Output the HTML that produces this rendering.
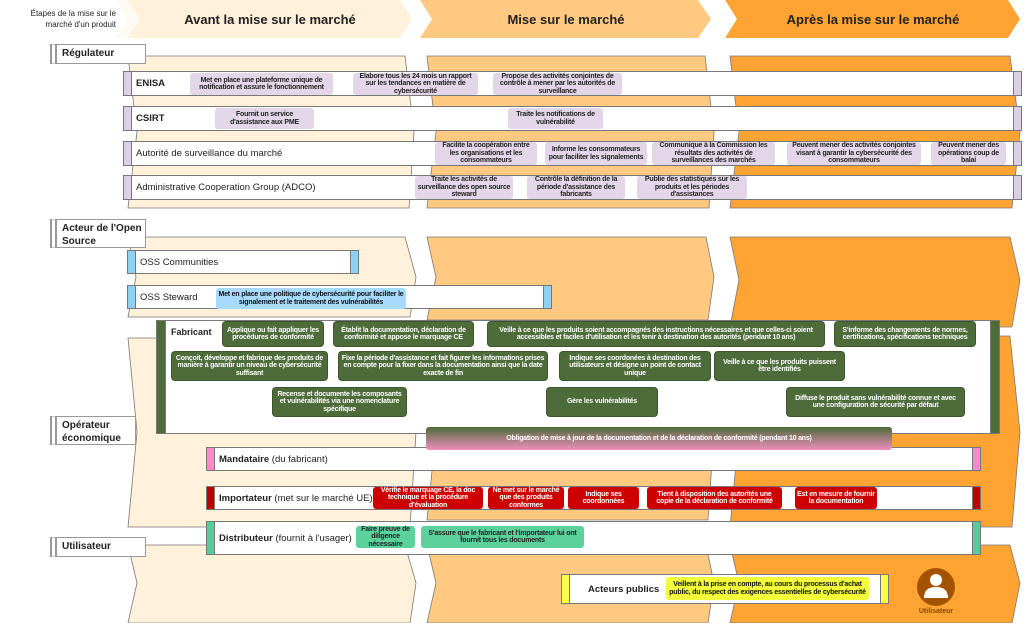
<!DOCTYPE html>
<html><head><meta charset="utf-8">
<style>
*{margin:0;padding:0;box-sizing:border-box}
body{width:1024px;height:623px;position:relative;background:#fff;overflow:hidden;font-family:"Liberation Sans",sans-serif}
svg.bg{position:absolute;left:0;top:0}
.a{position:absolute}
.lbl{position:absolute;background:#fff;border:1px solid #999;border-left:7px double #999;font-size:10px;font-weight:bold;color:#222;padding:2px 0 0 5px;line-height:13px}
.bar{position:absolute;background:#fff;border:1px solid #777}
.cap{position:absolute;top:-1px;bottom:-1px;width:9px;border:1px solid #777}
.cap.l{left:-1px}.cap.r{right:-1px}
.bt{position:absolute;left:12px;top:0;bottom:0;display:flex;align-items:center;font-size:9.5px;color:#222;white-space:nowrap}
.c{position:absolute;display:flex;align-items:center;justify-content:center;text-align:center;font-size:7px;font-weight:bold;line-height:7.4px;border-radius:3px;letter-spacing:-0.2px;padding:0 2px}
.p{background:#e2d6e8;color:#222}
.g{background:#4e6b3a;color:#fff;box-shadow:0 0 0 1px #3d552d}
.r{background:#cc0000;color:#fff}
.gr{background:#5bd19c;color:#222}
.b{background:#a6dbff;color:#111}
.y{background:#f3ff3a;color:#111}
.h{position:absolute;top:0;height:38px;display:flex;align-items:center;justify-content:center;font-size:13px;font-weight:bold;color:#222}
</style></head><body>
<svg class="bg" width="1024" height="623">
<polygon points="115,0 385,0 400,19 385,38 115,38 128,19" fill="#fffaf2"/>
<polygon points="128,0 400,0 412,19 400,38 128,38 140,19" fill="#fff1da"/>
<polygon points="420,0 698,0 711,19 698,38 420,38 432,19" fill="#ffc982"/>
<polygon points="725,0 1008,0 1020,19 1008,38 725,38 737,19" fill="#ffa432"/>
<g stroke="#777" stroke-width="0.8">
<polygon points="128,56 405,56 414,132 409,208 128,208 137,132" fill="#fff1da"/>
<polygon points="427,56 705,56 714,132 709,208 427,208 436,132" fill="#ffc982"/>
<polygon points="730,56 1010,56 1020,132 1012,208 730,208 739,132" fill="#ffa432"/>
<polygon points="128,237 405,237 416,277 410,317 128,317 136,277" fill="#fff1da"/>
<polygon points="427,237 706,237 714,277 708,320 427,320 436,277" fill="#ffc982"/>
<polygon points="730,237 1010,237 1020,280 1012,327 730,327 739,280" fill="#ffa432"/>
<polygon points="128,338 405,338 416,432 410,527 128,527 137,432" fill="#fff1da"/>
<polygon points="427,338 706,338 714,432 708,520 427,520 436,432" fill="#ffc982"/>
<polygon points="730,336 1010,336 1020,432 1012,527 730,527 739,432" fill="#ffa432"/>
<polygon points="128,545 405,545 416,583 410,623 128,623 137,583" fill="#fff1da"/>
<polygon points="427,545 706,545 714,583 708,623 427,623 436,583" fill="#ffc982"/>
<polygon points="730,545 1010,545 1020,583 1012,623 730,623 739,583" fill="#ffa432"/>
</g>
<circle cx="936" cy="587" r="19" fill="#a35200"/>
<circle cx="936" cy="580" r="6" fill="#fff"/>
<path d="M924,598 Q924,587 936,587 Q948,587 948,598 Z" fill="#fff"/>
</svg>

<div class="a" style="left:0;top:8px;width:116px;text-align:right;font-size:8px;line-height:11px;color:#222">Étapes de la mise sur le<br>marché d'un produit</div>
<div class="h" style="left:140px;width:260px">Avant la mise sur le marché</div>
<div class="h" style="left:432px;width:268px">Mise sur le marché</div>
<div class="h" style="left:737px;width:272px">Après la mise sur le marché</div>

<div class="lbl" style="left:50px;top:44px;width:96px;height:20px">Régulateur</div>
<div class="lbl" style="left:50px;top:219px;width:96px;height:29px">Acteur de l'Open<br>Source</div>
<div class="lbl" style="left:50px;top:416px;width:86px;height:29px">Opérateur<br>économique</div>
<div class="lbl" style="left:50px;top:537px;width:96px;height:20px">Utilisateur</div>

<div class="bar" style="left:123px;top:71px;width:899px;height:25px"><div class="cap l" style="background:#dcd0e6"></div><div class="cap r" style="background:#dcd0e6"></div><div class="bt" style="font-weight:bold">ENISA</div></div>
<div class="bar" style="left:123px;top:106px;width:899px;height:25px"><div class="cap l" style="background:#dcd0e6"></div><div class="cap r" style="background:#dcd0e6"></div><div class="bt" style="font-weight:bold">CSIRT</div></div>
<div class="bar" style="left:123px;top:141px;width:899px;height:25px"><div class="cap l" style="background:#dcd0e6"></div><div class="cap r" style="background:#dcd0e6"></div><div class="bt">Autorité de surveillance du marché</div></div>
<div class="bar" style="left:123px;top:175px;width:899px;height:25px"><div class="cap l" style="background:#dcd0e6"></div><div class="cap r" style="background:#dcd0e6"></div><div class="bt">Administrative Cooperation Group (ADCO)</div></div>

<div class="c p" style="left:190px;top:73px;width:143px;height:22px">Met en place une plateforme unique de notification et assure le fonctionnement</div>
<div class="c p" style="left:353px;top:73px;width:125px;height:22px">Elabore tous les 24 mois un rapport sur les tendances en matière de cybersécurité</div>
<div class="c p" style="left:493px;top:73px;width:129px;height:22px">Propose des activités conjointes de contrôle à mener par les autorités de surveillance</div>
<div class="c p" style="left:215px;top:108px;width:99px;height:21px">Fournit un service d'assistance aux PME</div>
<div class="c p" style="left:508px;top:108px;width:95px;height:21px">Traite les notifications de vulnérabilité</div>
<div class="c p" style="left:435px;top:142px;width:102px;height:23px">Facilite la coopération entre les organisations et les consommateurs</div>
<div class="c p" style="left:545px;top:142px;width:102px;height:23px">Informe les consommateurs pour faciliter les signalements</div>
<div class="c p" style="left:652px;top:142px;width:123px;height:23px">Communique à la Commission les résultats des activités de surveillances des marchés</div>
<div class="c p" style="left:787px;top:142px;width:134px;height:23px">Peuvent mener des activités conjointes visant à garantir la cybersécurité des consommateurs</div>
<div class="c p" style="left:931px;top:142px;width:75px;height:23px">Peuvent mener des opérations coup de balai</div>
<div class="c p" style="left:415px;top:176px;width:98px;height:23px">Traite les activités de surveillance des open source steward</div>
<div class="c p" style="left:527px;top:176px;width:98px;height:23px">Contrôle la définition de la période d'assistance des fabricants</div>
<div class="c p" style="left:637px;top:176px;width:110px;height:23px">Publie des statistiques sur les produits et les périodes d'assistances</div>

<div class="bar" style="left:127px;top:250px;width:232px;height:24px"><div class="cap l" style="background:#8fd0f5"></div><div class="cap r" style="background:#8fd0f5"></div><div class="bt">OSS Communities</div></div>
<div class="bar" style="left:127px;top:285px;width:425px;height:24px"><div class="cap l" style="background:#8fd0f5"></div><div class="cap r" style="background:#8fd0f5"></div><div class="bt">OSS Steward</div></div>
<div class="c b" style="left:216px;top:288px;width:190px;height:21px">Met en place une politique de cybersécurité pour faciliter le signalement et le traitement des vulnérabilités</div>

<div class="bar" style="left:156px;top:320px;width:844px;height:114px"><div class="cap l" style="background:#4e6b3a;width:10px"></div><div class="cap r" style="background:#4e6b3a;width:10px"></div><div class="a" style="left:14px;top:6px;font-size:9px;font-weight:bold;color:#222">Fabricant</div></div>
<div class="c g" style="left:223px;top:322px;width:100px;height:24px">Applique ou fait appliquer les procédures de conformité</div>
<div class="c g" style="left:334px;top:322px;width:139px;height:24px">Établit la documentation, déclaration de conformité et appose le marquage CE</div>
<div class="c g" style="left:488px;top:322px;width:336px;height:24px">Veille à ce que les produits soient accompagnés des instructions nécessaires et que celles-ci soient accessibles et faciles d'utilisation et les tenir à destination des autorités (pendant 10 ans)</div>
<div class="c g" style="left:835px;top:322px;width:140px;height:24px">S'informe des changements de normes, certifications, spécifications techniques</div>
<div class="c g" style="left:172px;top:352px;width:155px;height:28px">Conçoit, développe et fabrique des produits de manière à garantir un niveau de cybersécurité suffisant</div>
<div class="c g" style="left:339px;top:352px;width:208px;height:28px">Fixe la période d'assistance et fait figurer les informations prises en compte pour la fixer dans la documentation ainsi que la date exacte de fin</div>
<div class="c g" style="left:560px;top:352px;width:150px;height:28px">Indique ses coordonées à destination des utilisateurs et désigne un point de contact unique</div>
<div class="c g" style="left:715px;top:352px;width:129px;height:28px">Veille à ce que les produits puissent être identifiés</div>
<div class="c g" style="left:273px;top:388px;width:133px;height:28px">Recense et documente les composants et vulnérabilités via une nomenclature spécifique</div>
<div class="c g" style="left:547px;top:388px;width:110px;height:28px">Gère les vulnérabilités</div>
<div class="c g" style="left:787px;top:388px;width:177px;height:28px">Diffuse le produit sans vulnérabilité connue et avec une configuration de sécurité par défaut</div>

<div class="bar" style="left:206px;top:447px;width:775px;height:24px"><div class="cap l" style="background:#ff88cc"></div><div class="cap r" style="background:#ff88cc"></div><div class="bt"><b>Mandataire</b>&nbsp;(du fabricant)</div></div>
<div class="c" style="left:426px;top:427px;width:466px;height:23px;color:#fff;background:linear-gradient(#4e6b3a,#f08fc0)">Obligation de mise à jour de la documentation et de la déclaration de conformité (pendant 10 ans)</div>
<div class="bar" style="left:206px;top:486px;width:775px;height:24px"><div class="cap l" style="background:#c00000"></div><div class="cap r" style="background:#c00000"></div><div class="bt"><b>Importateur</b>&nbsp;(met sur le marché UE)</div></div>
<div class="c r" style="left:373px;top:487px;width:110px;height:22px">Vérifie le marquage CE, la doc technique et la procédure d'évaluation</div>
<div class="c r" style="left:488px;top:487px;width:76px;height:22px">Ne met sur le marché que des produits conformes</div>
<div class="c r" style="left:568px;top:487px;width:71px;height:22px">Indique ses coordonnées</div>
<div class="c r" style="left:647px;top:487px;width:135px;height:22px">Tient à disposition des autorités une copie de la déclaration de conformité</div>
<div class="c r" style="left:795px;top:487px;width:82px;height:22px">Est en mesure de fournir la documentation</div>
<div class="bar" style="left:206px;top:521px;width:775px;height:34px"><div class="cap l" style="background:#55cc99"></div><div class="cap r" style="background:#55cc99"></div><div class="bt"><b>Distributeur</b>&nbsp;(fournit à l'usager)</div></div>
<div class="c gr" style="left:356px;top:526px;width:59px;height:22px">Faire preuve de diligence nécessaire</div>
<div class="c gr" style="left:421px;top:526px;width:163px;height:22px">S'assure que le fabricant et l'importateur lui ont fournit tous les documents</div>

<div class="bar" style="left:561px;top:574px;width:328px;height:30px"><div class="cap l" style="background:#ffff44"></div><div class="cap r" style="background:#ffff44"></div><div class="bt" style="left:26px;font-weight:bold">Acteurs publics</div></div>
<div class="c y" style="left:666px;top:577px;width:203px;height:23px">Veillent à la prise en compte, au cours du processus d'achat public, du respect des exigences essentielles de cybersécurité</div>
<div class="a" style="left:906px;top:608px;width:60px;text-align:center;font-size:7px;font-weight:bold;color:#8a4800">Utilisateur</div>
</body></html>
